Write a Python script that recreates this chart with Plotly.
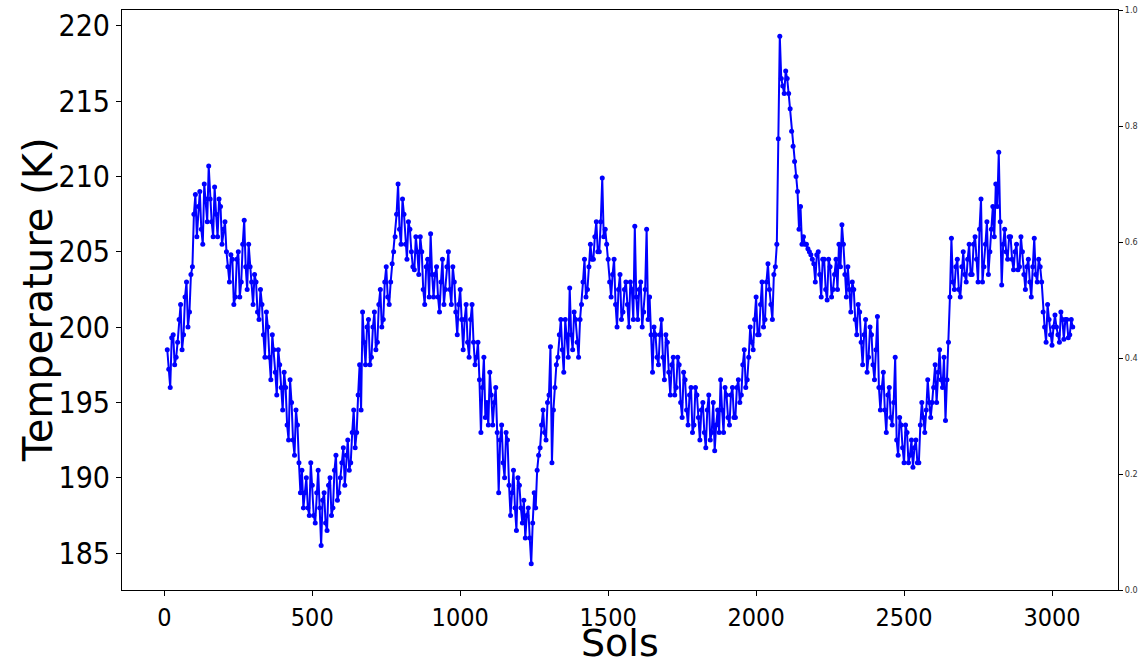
import plotly.graph_objects as go

# Sols sampled every 5 sols (10 .. 3070)
sols = list(range(10, 3071, 5))

temperature_k = [
    # 10-105
    198.5, 197.2, 196.0, 199.3, 199.5, 197.5, 198.0, 199.0, 200.5, 201.5,
    198.5, 199.5, 202.0, 203.0, 200.0, 201.0, 203.5, 204.0, 207.5, 208.8,
    # 110-205
    206.0, 208.0, 209.0, 206.5, 205.5, 209.5, 208.5, 207.0, 210.7, 208.5,
    207.0, 206.0, 209.3, 207.5, 206.0, 208.5, 208.0, 205.5, 206.5, 207.0,
    # 210-305
    205.0, 204.0, 203.0, 204.8, 204.5, 201.5, 202.0, 204.5, 205.0, 202.0,
    203.0, 205.5, 207.1, 204.0, 202.5, 205.5, 204.0, 203.0, 201.5, 203.5,
    # 310-405
    203.0, 201.0, 200.5, 202.5, 201.5, 199.5, 198.0, 201.0, 200.0, 198.0,
    196.5, 199.5, 198.5, 197.0, 195.5, 198.5, 197.5, 196.0, 194.5, 197.0,
    # 410-505
    196.0, 193.5, 192.5, 196.5, 195.0, 192.5, 191.5, 194.5, 193.5, 191.0,
    189.0, 190.5, 188.0, 189.0, 190.0, 188.0, 187.5, 191.0, 189.5, 187.5,
    # 510-605
    187.0, 189.0, 190.5, 188.0, 185.5, 188.5, 189.0, 187.0, 186.5, 189.5,
    190.0, 187.5, 188.0, 190.5, 191.5, 188.5, 189.0, 190.0, 191.0, 192.0,
    # 610-705
    189.5, 191.5, 192.5, 190.5, 191.0, 193.0, 194.5, 192.0, 193.0, 195.5,
    197.5, 194.5, 201.0, 199.0, 197.5, 200.0, 200.5, 197.5, 198.0, 200.0,
    # 710-805
    201.0, 198.5, 199.0, 201.5, 202.5, 200.0, 200.5, 203.0, 204.0, 202.0,
    201.5, 203.0, 204.2, 205.0, 206.0, 207.5, 209.5, 206.5, 205.5, 208.5,
    # 810-905
    207.5, 205.5, 204.5, 207.0, 206.5, 205.0, 204.0, 203.8, 206.0, 205.0,
    203.5, 206.0, 205.0, 202.5, 201.5, 204.0, 204.5, 202.0, 206.2, 203.5,
    # 910-1005
    202.0, 203.5, 204.0, 202.0, 201.0, 203.0, 204.5, 201.5, 202.5, 204.0,
    205.0, 202.5, 201.5, 204.0, 203.0, 201.0, 199.5, 201.5, 202.5, 200.5,
    # 1010-1105
    198.5, 200.5, 201.5, 199.0, 198.0, 200.5, 201.5, 199.0, 197.5, 198.0,
    199.0, 196.5, 193.0, 196.0, 198.0, 194.0, 195.0, 193.5, 197.0, 195.5,
    # 1110-1205
    193.5, 195.0, 196.0, 193.0, 189.0, 192.5, 193.5, 191.0, 190.0, 193.0,
    192.5, 189.5, 187.5, 189.0, 190.5, 188.0, 186.5, 190.0, 189.5, 188.0,
    # 1210-1305
    187.0, 188.5, 186.0, 187.5, 188.0, 186.0, 184.3, 187.0, 189.0, 188.0,
    190.5, 191.5, 192.0, 193.5, 194.5, 193.0, 192.5, 195.0, 195.5, 198.7,
    # 1310-1405
    191.0, 194.5, 196.0, 197.5, 198.0, 199.5, 200.5, 198.5, 197.0, 200.5,
    199.5, 198.0, 202.6, 199.5, 198.5, 201.0, 200.5, 199.0, 198.0, 200.5,
    # 1410-1505
    201.5, 203.0, 204.5, 202.0, 202.5, 204.0, 205.5, 204.5, 204.5, 206.0,
    207.0, 205.0, 205.0, 207.0, 209.9, 206.0, 206.5, 205.5, 204.5, 203.0,
    # 1510-1605
    202.0, 203.5, 204.5, 201.5, 200.0, 202.5, 203.5, 200.5, 201.0, 202.5,
    203.0, 201.5, 200.0, 203.0, 202.5, 200.5, 206.7, 202.0, 200.5, 202.5,
    # 1610-1705
    203.0, 200.0, 201.0, 202.5, 206.5, 200.5, 202.0, 199.5, 197.0, 200.0,
    199.5, 198.0, 197.5, 199.5, 200.5, 198.0, 196.5, 199.5, 199.0, 197.0,
    # 1710-1805
    195.5, 197.5, 198.0, 195.5, 196.0, 198.0, 197.5, 195.0, 194.0, 197.0,
    196.5, 194.5, 193.5, 195.5, 196.0, 193.0, 193.5, 196.0, 195.5, 194.0,
    # 1810-1905
    192.5, 194.5, 195.0, 193.0, 192.0, 194.5, 195.5, 192.5, 193.0, 195.0,
    191.8, 193.5, 194.5, 193.0, 196.5, 194.5, 193.0, 196.0, 195.5, 194.0,
    # 1910-2005
    193.5, 195.5, 196.0, 194.0, 194.0, 196.0, 196.5, 195.0, 195.5, 197.5,
    198.5, 196.0, 196.5, 198.0, 200.0, 199.0, 198.5, 200.5, 202.0, 199.5,
    # 2010-2105
    199.5, 201.5, 203.0, 200.0, 200.5, 203.0, 204.2, 202.5, 201.5, 200.5,
    203.5, 204.0, 205.5, 212.5, 219.3, 216.5, 216.0, 215.5, 217.0, 216.5,
    # 2110-2205
    215.5, 214.5, 213.0, 212.0, 211.0, 210.0, 209.0, 206.5, 208.0, 205.5,
    206.0, 205.5, 205.5, 205.2, 205.0, 204.8, 204.5, 204.2, 203.0, 204.8,
    # 2210-2305
    205.0, 203.5, 202.0, 204.5, 204.5, 202.5, 201.8, 204.5, 204.0, 202.0,
    202.5, 203.5, 204.5, 202.5, 205.5, 204.0, 206.8, 205.5, 203.5, 202.0,
    # 2310-2405
    204.0, 202.5, 201.0, 203.0, 202.5, 200.5, 199.5, 201.5, 201.0, 199.0,
    197.5, 199.5, 200.5, 197.0, 198.0, 200.0, 199.5, 197.5, 196.5, 198.5,
    # 2410-2505
    200.7, 196.0, 194.5, 196.0, 197.0, 194.5, 193.0, 195.5, 196.0, 194.0,
    193.5, 195.0, 198.0, 192.5, 191.5, 194.0, 193.5, 192.0, 191.0, 193.5,
    # 2510-2605
    193.0, 191.0, 191.5, 192.5, 190.7, 192.0, 192.5, 191.0, 191.0, 193.5,
    195.0, 194.0, 193.0, 194.5, 196.5, 195.0, 194.0, 195.0, 196.0, 197.5,
    # 2610-2705
    195.0, 197.0, 198.5, 196.5, 196.0, 198.0, 193.8, 196.5, 199.0, 202.0,
    205.9, 203.0, 202.5, 204.0, 204.5, 202.5, 202.0, 204.0, 205.0, 203.5,
    # 2710-2805
    203.0, 204.5, 205.5, 203.5, 203.5, 205.5, 206.0, 204.5, 203.0, 206.5,
    208.5, 203.0, 204.0, 205.5, 207.0, 203.5, 205.0, 206.5, 208.0, 206.0,
    # 2810-2905
    209.5, 208.0, 211.6, 207.0, 202.8, 205.5, 206.5, 205.0, 204.5, 206.0,
    206.0, 204.5, 203.8, 205.0, 205.5, 203.8, 204.0, 206.0, 205.0, 203.5,
    # 2910-3005
    202.5, 204.0, 204.5, 203.0, 202.0, 204.0, 205.9, 203.5, 203.0, 204.5,
    204.0, 203.0, 201.0, 200.0, 199.0, 201.5, 200.5, 199.5, 198.8, 200.0,
    # 3010-3070
    200.8, 200.0, 199.5, 199.0, 201.0, 200.5, 199.2, 200.5, 200.5, 199.3,
    199.5, 200.5, 200.0,
]
assert len(sols) == len(temperature_k)

y_ticks = [185, 190, 195, 200, 205, 210, 215, 220]
x_ticks = [0, 500, 1000, 1500, 2000, 2500, 3000]
right_ticks = [0.0, 0.2, 0.4, 0.6, 0.8, 1.0]

TICK_FONT = "DejaVu Sans Condensed, DejaVu Sans, sans-serif"
TITLE_FONT = "DejaVu Sans, sans-serif"

fig = go.Figure()
fig.add_trace(go.Scatter(
    x=sols, y=temperature_k, mode="lines+markers",
    line=dict(color="#0000ff", width=2),
    marker=dict(color="#0000ff", size=5),
    showlegend=False,
))
# empty twin-axis trace so the right 0..1 axis is drawn
fig.add_trace(go.Scatter(x=[], y=[], yaxis="y2", showlegend=False))

xmin, xmax = min(sols), max(sols)
xpad = 0.05 * (xmax - xmin)
ymin, ymax = min(temperature_k), max(temperature_k)
ypad = 0.05 * (ymax - ymin)

fig.update_layout(
    width=1143, height=666,
    margin=dict(l=122, r=25, t=10, b=76, autoexpand=False),
    paper_bgcolor="white", plot_bgcolor="white",
    font=dict(family=TICK_FONT, color="black"),
    xaxis=dict(
        range=[xmin - xpad, xmax + xpad], automargin=False,
        tickvals=x_ticks, ticktext=[str(v) for v in x_ticks],
        tickfont=dict(size=25), ticks="outside", ticklen=5, tickcolor="black",
        showline=True, linecolor="black", linewidth=1, mirror=True,
        showgrid=False, zeroline=False,
    ),
    yaxis=dict(
        range=[ymin - ypad, ymax + ypad], automargin=False,
        tickvals=y_ticks, ticktext=[str(v) for v in y_ticks],
        tickfont=dict(size=30), ticks="outside", ticklen=5, tickcolor="black",
        showline=True, linecolor="black", linewidth=1, mirror=True,
        showgrid=False, zeroline=False,
    ),
    yaxis2=dict(
        overlaying="y", side="right", range=[0, 1], automargin=False,
        tickvals=right_ticks, ticktext=[f"{v:.1f}" for v in right_ticks],
        tickfont=dict(size=9, color="#333333"), ticks="outside", ticklen=4,
        tickcolor="black", showline=True, linecolor="black", linewidth=1,
        showgrid=False, zeroline=False,
    ),
    annotations=[
        dict(
            text="Temperature (K)", textangle=-90,
            xref="paper", yref="paper", x=-(122 - 38) / 996, y=0.5,
            xanchor="center", yanchor="middle", showarrow=False,
            font=dict(size=40, family=TITLE_FONT, color="black"),
        ),
        dict(
            text="Sols",
            xref="paper", yref="paper", x=0.5, y=-(643 - 590) / 580,
            xanchor="center", yanchor="middle", showarrow=False,
            font=dict(size=38, family=TITLE_FONT, color="black"),
        ),
    ],
)

fig.write_html("out.html")
